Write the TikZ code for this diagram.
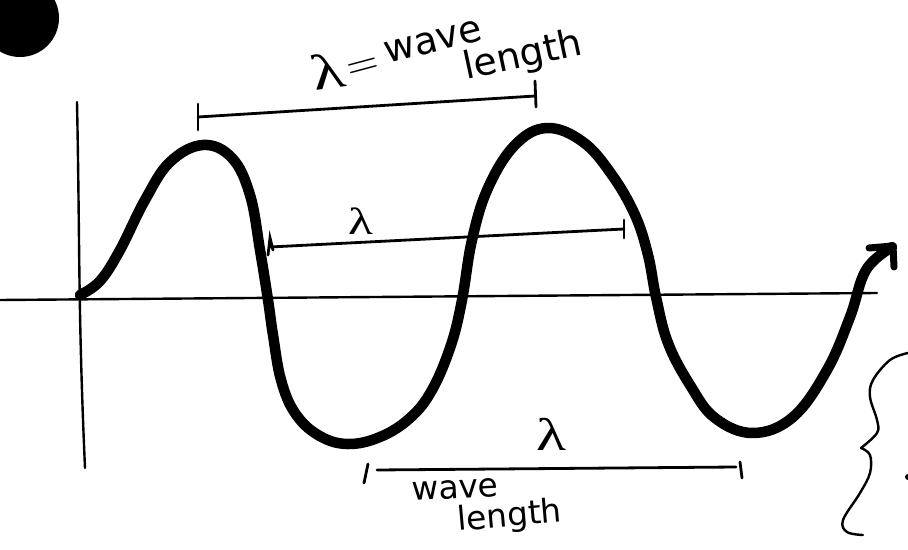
\documentclass[tikz,border=0pt]{standalone}
\usepackage{fontspec}
\newfontfamily\lamfont{Liberation Serif}
\newfontfamily\handfont{DejaVu Sans}
\begin{document}
\begin{tikzpicture}[x=1bp,y=-1bp,
  axisline/.style={line width=2.4bp, line cap=round},
  wave/.style={line width=10.5bp, line cap=round, line join=round},
  measure/.style={line width=2.8bp, line cap=round},
  tickmark/.style={line width=2.8bp, line cap=round},
  hand/.style={inner sep=0pt, anchor=base west},
  lam/.style={inner sep=0pt, xscale=1.35}]
\useasboundingbox (0,0) rectangle (908,550);
% dot
\fill (20,18) circle (39);
% axes
\coordinate (xa) at (0,300);
\coordinate (xb) at (877,293);
\coordinate (ya) at (77,102);
\coordinate (yb) at (85,468);
\draw[axisline] (xa) -- (xb);
\draw[axisline] (ya) .. controls (80,250) and (78,310) .. (yb);
% wave
\draw[wave] plot[smooth, tension=0.65] coordinates {
 (80,295) (100,281) (120,250) (145,200) (170,162) (203,145)
 (232,158) (250,195) (260,250) (268,300) (273,335) (281,380)
 (295,413) (318,435) (347,444) (380,437) (410,418) (432,390)
 (451,345) (462,300) (472,240) (488,188) (515,145) (547,128)
 (583,142) (612,175) (635,215) (648,255) (656,297) (668,343)
 (690,385) (715,418) (753,433) (793,417) (827,370)
 (850,317) (866,270) (892,247)};
\coordinate (ah1) at (869,248);
\coordinate (ah2) at (893,246);
\coordinate (ah3) at (894,267);
\draw[line width=7bp, line cap=round, line join=round] (ah1) -- (ah2) -- (ah3);
% top measure
\coordinate (t1) at (198,117);
\coordinate (t2) at (535,96);
\draw[measure] (t1) -- (t2);
\draw[tickmark] (198,104) -- (198,130);
\draw[tickmark] (535,81) -- (536,107);
\node[lam, rotate=10, font=\lamfont\fontsize{50}{50}\selectfont] (lt) at (327,71) {λ};
\node[inner sep=0pt, rotate=15, font=\fontsize{44}{44}\selectfont] (eq) at (364,69) {=};
\node[hand, rotate=14, font=\handfont\fontsize{38}{38}\selectfont] (wt) at (387,64) {wave};
\node[hand, rotate=12, font=\handfont\fontsize{38}{38}\selectfont] (lt2) at (466,80) {length};
% middle measure
\coordinate (m1) at (270,247);
\coordinate (m2) at (624,229);
\draw[measure] (m1) -- (m2);
\draw[tickmark] (268,255) -- (270,238) -- (273,250);
\draw[tickmark] (624,220) -- (624,238);
\node[lam, font=\lamfont\fontsize{38}{38}\selectfont] (lm) at (361,221) {λ};
% bottom measure
\coordinate (b1) at (377,470);
\coordinate (b2) at (736,467);
\draw[measure] (b1) -- (b2);
\draw[tickmark] (364,483) -- (368,464);
\draw[tickmark] (740,462) -- (742,478);
\node[lam, font=\lamfont\fontsize{46}{46}\selectfont] (lb) at (551,434) {λ};
\node[hand, rotate=3, font=\handfont\fontsize{33}{33}\selectfont] (wb) at (412,501) {wave};
\node[hand, rotate=5, font=\handfont\fontsize{33}{33}\selectfont] (lb2) at (458,531) {length};
% brace
\draw[line width=2.4bp, line cap=round] plot[smooth, tension=0.6] coordinates {
 (908,353) (890,360) (873,380) (870,397) (877,420) (877,433) (861,448)};
\draw[line width=2.4bp, line cap=round] plot[smooth, tension=0.6] coordinates {
 (861,448) (870,455) (870,473) (860,493) (843,520) (847,532) (863,535)};
\fill (908,477) circle (3);
\end{tikzpicture}
\end{document}
